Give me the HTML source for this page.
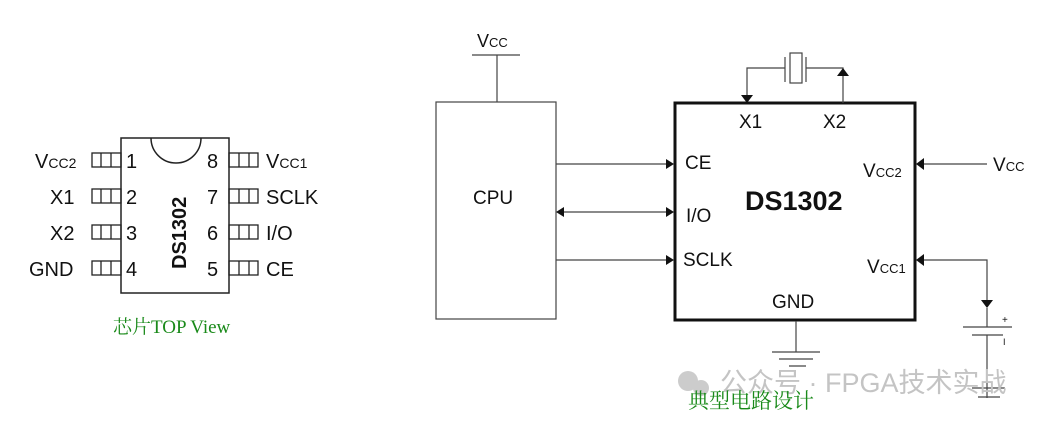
<!DOCTYPE html>
<html><head><meta charset="utf-8"><style>
html,body{margin:0;padding:0;background:#fff;}
svg{display:block;}
text{font-family:"Liberation Sans",Arial,sans-serif;fill:#111;}
.cn{font-family:"Liberation Serif","Noto Serif CJK SC",serif;fill:#1a8a1a;}
</style></head><body>
<svg width="1060" height="428" viewBox="0 0 1060 428" xmlns="http://www.w3.org/2000/svg">
<rect width="1060" height="428" fill="#fff"/>
<g stroke="#222" stroke-width="1.5" fill="none">
<rect x="121" y="138" width="108" height="155"/>
<path d="M151,138 A25,25 0 0 0 201,138"/>
</g>
<g stroke="#222" stroke-width="1.3" fill="none">
<rect x="92" y="153" width="29" height="14"/><line x1="101" y1="153" x2="101" y2="167"/><line x1="111" y1="153" x2="111" y2="167"/>
<rect x="92" y="189" width="29" height="14"/><line x1="101" y1="189" x2="101" y2="203"/><line x1="111" y1="189" x2="111" y2="203"/>
<rect x="92" y="225" width="29" height="14"/><line x1="101" y1="225" x2="101" y2="239"/><line x1="111" y1="225" x2="111" y2="239"/>
<rect x="92" y="261" width="29" height="14"/><line x1="101" y1="261" x2="101" y2="275"/><line x1="111" y1="261" x2="111" y2="275"/>
<rect x="229" y="153" width="29" height="14"/><line x1="239" y1="153" x2="239" y2="167"/><line x1="249" y1="153" x2="249" y2="167"/>
<rect x="229" y="189" width="29" height="14"/><line x1="239" y1="189" x2="239" y2="203"/><line x1="249" y1="189" x2="249" y2="203"/>
<rect x="229" y="225" width="29" height="14"/><line x1="239" y1="225" x2="239" y2="239"/><line x1="249" y1="225" x2="249" y2="239"/>
<rect x="229" y="261" width="29" height="14"/><line x1="239" y1="261" x2="239" y2="275"/><line x1="249" y1="261" x2="249" y2="275"/>
</g>
<g font-size="20">
<text x="35" y="168">V<tspan font-size="14">CC2</tspan></text>
<text x="50" y="204">X1</text>
<text x="50" y="240">X2</text>
<text x="29" y="276">GND</text>
<text x="126" y="168">1</text><text x="126" y="204">2</text><text x="126" y="240">3</text><text x="126" y="276">4</text>
<text x="207" y="168">8</text><text x="207" y="204">7</text><text x="207" y="240">6</text><text x="207" y="276">5</text>
<text x="266" y="168">V<tspan font-size="14">CC1</tspan></text>
<text x="266" y="204">SCLK</text>
<text x="266" y="240">I/O</text>
<text x="266" y="276">CE</text>
</g>
<text x="0" y="0" font-size="20" font-weight="bold" transform="translate(186,269) rotate(-90)">DS1302</text>
<text class="cn" x="113" y="333" font-size="19">芯片TOP View</text>

<g stroke="#444" stroke-width="1.2" fill="none">
<rect x="436" y="102" width="120" height="217"/>
<line x1="472" y1="55" x2="520" y2="55"/>
<line x1="497" y1="55" x2="497" y2="102"/>
<line x1="556" y1="164" x2="667" y2="164"/>
<line x1="563" y1="212" x2="667" y2="212"/>
<line x1="556" y1="260" x2="667" y2="260"/>
</g>
<g fill="#111">
<polygon points="674,164 666,159 666,169"/>
<polygon points="674,212 666,207 666,217"/>
<polygon points="556,212 564,207 564,217"/>
<polygon points="674,260 666,255 666,265"/>
</g>
<text x="477" y="47" font-size="18">V<tspan font-size="13">CC</tspan></text>
<text x="473" y="204" font-size="19">CPU</text>

<rect x="675" y="103" width="240" height="217" fill="none" stroke="#111" stroke-width="3"/>
<g stroke="#444" stroke-width="1.2" fill="none">
<polyline points="747,96 747,68 785,68"/>
<line x1="785" y1="57" x2="785" y2="82"/>
<rect x="790" y="53" width="12" height="30"/>
<line x1="806" y1="57" x2="806" y2="82"/>
<polyline points="806,68 843,68 843,103"/>
<line x1="922" y1="164" x2="987" y2="164"/>
<polyline points="922,260 987,260 987,300"/>
<line x1="963" y1="327" x2="1012" y2="327"/>
<line x1="972" y1="335" x2="1003" y2="335"/>
<line x1="987" y1="335" x2="987" y2="398"/>
<line x1="796" y1="321" x2="796" y2="352"/>
<line x1="772" y1="352" x2="820" y2="352"/>
<line x1="779" y1="359" x2="813" y2="359"/>
<line x1="789" y1="366" x2="806" y2="366"/>
<line x1="987" y1="308" x2="987" y2="327"/>
<line x1="972" y1="388" x2="1005" y2="388"/>
<line x1="978" y1="397" x2="1000" y2="397"/>
</g>
<g fill="#111">
<polygon points="747,103 741,95 753,95"/>
<polygon points="843,68 837,76 849,76"/>
<polygon points="916,164 924,158 924,170"/>
<polygon points="916,260 924,254 924,266"/>
<polygon points="987,308 981,300 993,300"/>
</g>
<g font-size="19">
<text x="739" y="128">X1</text>
<text x="823" y="128">X2</text>
<text x="685" y="169">CE</text>
<text x="686" y="222">I/O</text>
<text x="683" y="266">SCLK</text>
<text x="772" y="308">GND</text>
<text x="863" y="177">V<tspan font-size="13">CC2</tspan></text>
<text x="867" y="273">V<tspan font-size="13">CC1</tspan></text>
<text x="993" y="171">V<tspan font-size="13">CC</tspan></text>
</g>
<text x="745" y="210" font-size="27" font-weight="bold">DS1302</text>
<text x="1002" y="323" font-size="10">+</text>
<text x="1003" y="345" font-size="9">I</text>

<g fill="#ccc"><circle cx="688" cy="381" r="10"/><circle cx="701" cy="388" r="8"/></g>
<text x="720" y="392" font-size="27" style="fill:#c4c4c4;font-family:'Liberation Sans','Noto Sans CJK SC',sans-serif">公众号 · FPGA技术实战</text>
<text class="cn" x="688" y="408" font-size="21">典型电路设计</text>
</svg>
</body></html>
